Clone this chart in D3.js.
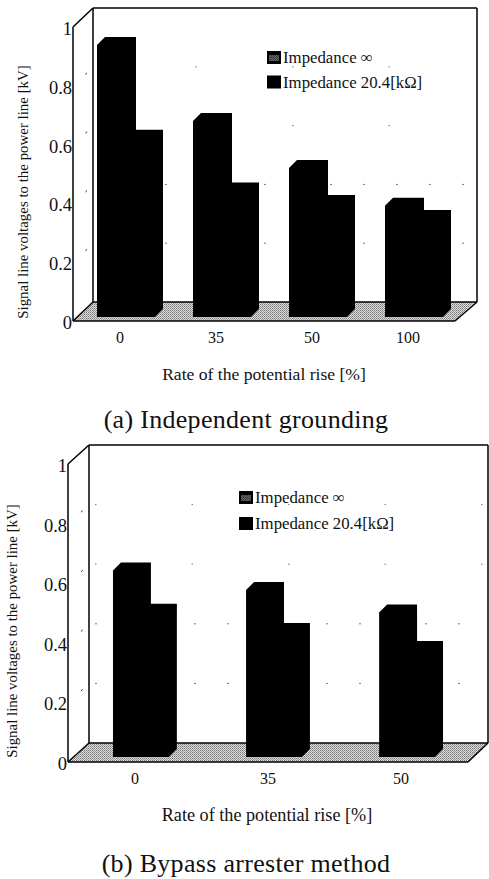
<!DOCTYPE html>
<html>
<head>
<meta charset="utf-8">
<script src="https://cdn.jsdelivr.net/npm/d3@7"></script>
<style>
  html, body { margin: 0; padding: 0; background: #fff; }
  svg { display: block; }
  text { font-family: "Liberation Serif", serif; fill: #111; }
</style>
</head>
<body>
<svg id="chart" width="489" height="879"></svg>
<script>
const seriesNames = ["Impedance \u221E", "Impedance 20.4[k\u03A9]"];
const yTicks = [0, 0.2, 0.4, 0.6, 0.8, 1];

const ratesA = ["0", "35", "50", "100"];
const infA = [0.925, 0.667, 0.507, 0.378];
const kohmA = [0.61, 0.43, 0.388, 0.337];

const ratesB = ["0", "35", "50"];
const infB = [0.626, 0.56, 0.485];
const kohmB = [0.487, 0.423, 0.362];

const yTitle = "Signal line voltages to the power line [kV]";
const xTitle = "Rate of the potential rise [%]";

const svg = d3.select("#chart");

// floor + legend dither
const defs = svg.append("defs");
const floorPat = defs.append("pattern").attr("id", "floor")
  .attr("width", 2).attr("height", 2).attr("patternUnits", "userSpaceOnUse");
floorPat.append("rect").attr("width", 2).attr("height", 2).attr("fill", "#dedede");
floorPat.append("rect").attr("width", 1).attr("height", 1).attr("fill", "#777");
floorPat.append("rect").attr("x", 1).attr("y", 1).attr("width", 1).attr("height", 1).attr("fill", "#999");

const line = d3.line();

function panel(p) {
  const g = svg.append("g");
  const y = d3.scaleLinear().domain([0, 1]).range([p.y0, p.y1]);
  const dx = p.backX - p.left, dy = p.y0 - p.floorY;

  const x0 = d3.scaleBand().domain(p.rates)
    .range([p.left, p.right])
    .paddingInner(p.padInner).paddingOuter(p.padOuter);
  const depth = 8;
  const x1 = d3.scaleBand().domain(seriesNames).range([0, x0.bandwidth() - depth]);

  // floor
  g.append("path")
    .attr("d", line([[p.left, p.y0], [p.floorRight, p.y0], [p.floorRight + dx, p.floorY], [p.left + dx, p.floorY]]) + "Z")
    .attr("fill", "url(#floor)");

  // back wall gridlines, mostly dropped out in the scan
  g.selectAll(".grid").data(yTicks.slice(1, 5)).join("line")
    .attr("x1", p.backX + 6).attr("x2", p.backRight)
    .attr("y1", d => y(d) - dy).attr("y2", d => y(d) - dy)
    .attr("stroke", "#777").attr("stroke-width", 1)
    .attr("stroke-dasharray", d => d < 0.5 ? "2 31" : "1.5 95");

  // small marks on the side wall
  g.selectAll(".mark").data(yTicks.slice(1, 5)).join("line")
    .attr("x1", p.left + dx * 0.62).attr("x2", p.left + dx * 0.7)
    .attr("y1", d => y(d) - dy * 0.6).attr("y2", d => y(d) - dy * 0.68)
    .attr("stroke", "#222").attr("stroke-width", 1);

  // walls
  const wall = [
    [[p.left, p.y0], [p.left, p.y1]],
    [[p.left, p.y1], [p.backX, p.y1 - dy]],
    [[p.backX, p.y1 - dy], [p.backX, p.floorY]],
    [[p.backX, p.y1 - dy], [p.backRight, p.y1 - dy]],
    [[p.backRight, p.y1 - dy], [p.backRight, p.floorY]],
    [[p.left, p.y0], [p.backX, p.floorY]],
    [[p.backX, p.floorY], [p.backRight, p.floorY]],
    [[p.backRight, p.floorY], [p.floorRight, p.y0]],
    [[p.left, p.y0], [p.floorRight, p.y0]]
  ];
  g.selectAll(".wall").data(wall).join("path")
    .attr("d", d => line(d)).attr("fill", "none")
    .attr("stroke", "#000").attr("stroke-width", 1.5);

  // bars, front face + top + side as one outline
  const base = p.y0 - p.barLift;
  const barData = p.rates.flatMap((r, i) => [
    { r, s: seriesNames[0], v: p.inf[i] },
    { r, s: seriesNames[1], v: p.kohm[i] }
  ]);
  g.selectAll(".bar").data(barData).join("path")
    .attr("fill", "#000")
    .attr("d", d => {
      const xl = x0(d.r) + x1(d.s);
      const xr = xl + x1.bandwidth() + (d.s === seriesNames[0] ? 2 : 0);
      const top = y(d.v) - p.barLift;
      return line([[xl, base], [xl, top], [xl + depth, top - depth], [xr + depth, top - depth],
        [xr + depth, base - depth], [xr, base]]) + "Z";
    });

  // y axis labels
  const yAxis = g.append("g").attr("transform", `translate(${p.left},1.5)`)
    .call(d3.axisLeft(y).tickValues(yTicks).tickFormat(d3.format("~g")).tickSize(0).tickPadding(1));
  yAxis.select(".domain").remove();
  yAxis.selectAll("text").attr("font-size", 18.5).attr("font-family", "Liberation Serif").attr("fill", "#111");

  // x labels
  const xAxis = g.append("g").attr("transform", `translate(-10,${p.y0})`)
    .call(d3.axisBottom(x0).tickSize(0).tickPadding(p.xPad));
  xAxis.select(".domain").remove();
  xAxis.selectAll("text").attr("font-size", 16).attr("font-family", "Liberation Serif").attr("fill", "#111");

  // titles
  g.append("text").attr("transform", `translate(${p.yTitleX},${p.yTitleY}) rotate(-90)`)
    .attr("text-anchor", "middle").attr("font-size", 14.9).text(yTitle);
  g.append("text").attr("x", p.xTitleX).attr("y", p.xTitleBase)
    .attr("text-anchor", "middle").attr("font-size", p.xTitleSize).text(xTitle);
  g.append("text").attr("x", 246).attr("y", p.capBase)
    .attr("text-anchor", "middle").attr("font-size", 26).attr("letter-spacing", 0.3).text(p.caption);

  // legend
  const leg = g.selectAll(".leg").data(seriesNames).join("g")
    .attr("transform", (d, i) => `translate(${p.legX},${p.legY + i * p.legStep})`);
  leg.append("rect").attr("width", 14).attr("height", 13).attr("y", -12)
    .attr("fill", "#000");
  leg.filter((d, i) => i === 0).append("rect")
    .attr("x", 2).attr("y", -8).attr("width", 10).attr("height", 6)
    .attr("fill", "url(#floor)").attr("opacity", 0.45);
  leg.append("text").attr("x", 16).attr("font-size", 16.8).text(d => d);
}

panel({
  rates: ratesA, inf: infA, kohm: kohmA,
  left: 73, right: 475, backX: 93, backRight: 477, floorRight: 455,
  y0: 321, y1: 27, floorY: 302, barLift: 4,
  padInner: 0.3125, padOuter: 0.25, xPad: 11,
  yTitleX: 28, yTitleY: 192,
  xTitleX: 264, xTitleBase: 380, xTitleSize: 17.6,
  caption: "(a) Independent grounding", capBase: 428,
  legX: 267, legY: 63, legStep: 24.5
});

panel({
  rates: ratesB, inf: infB, kohm: kohmB,
  left: 68, right: 488, backX: 89, backRight: 488, floorRight: 468,
  y0: 762, y1: 464, floorY: 743, barLift: 5,
  padInner: 0.52, padOuter: 0.338, xPad: 11,
  yTitleX: 17, yTitleY: 631,
  xTitleX: 267, xTitleBase: 821, xTitleSize: 18.2,
  caption: "(b) Bypass arrester method", capBase: 872,
  legX: 239, legY: 503, legStep: 26
});
</script>
</body>
</html>
